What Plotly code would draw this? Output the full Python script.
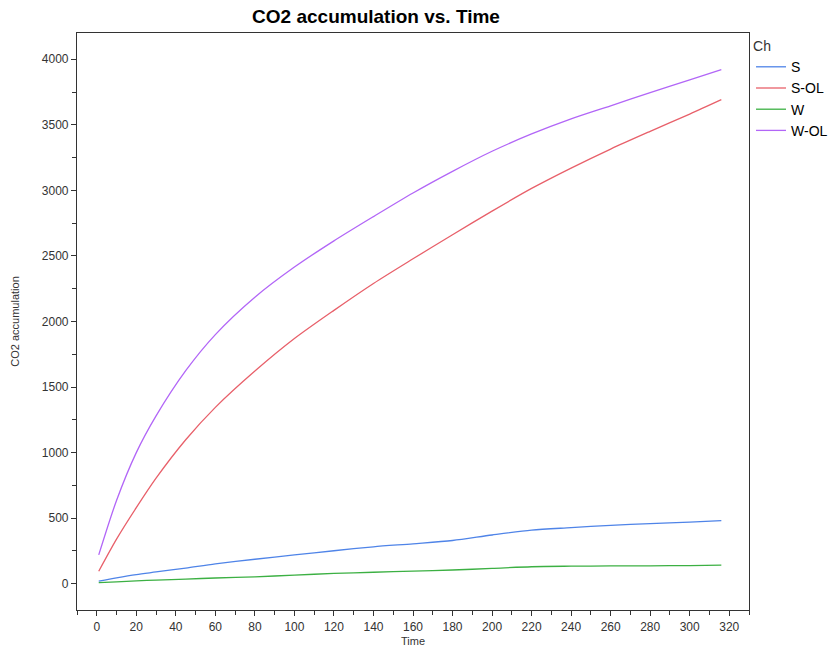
import plotly.graph_objects as go

# Sampling times shared by all channels
time = [1, 10, 20, 30, 45, 60, 80, 100, 120, 140, 160, 180, 200, 220, 240, 260, 280, 300, 316]

# CO2 accumulation per channel
co2_s = [20, 45, 70, 90, 120, 152, 187, 220, 252, 282, 305, 330, 372, 409, 428, 446, 458, 470, 481]
co2_s_ol = [95, 340, 580, 805, 1098, 1345, 1622, 1870, 2085, 2290, 2478, 2662, 2842, 3015, 3170, 3315, 3450, 3582, 3692]
co2_w = [8, 15, 22, 28, 36, 44, 53, 66, 79, 88, 96, 105, 117, 130, 134, 136, 137, 139, 142]
co2_w_ol = [220, 635, 1000, 1280, 1625, 1900, 2185, 2415, 2615, 2800, 2980, 3145, 3298, 3430, 3545, 3645, 3745, 3843, 3920]

channels = ["S", "S-OL", "W", "W-OL"]
series = [co2_s, co2_s_ol, co2_w, co2_w_ol]
colors = ["#4f84e8", "#e8606a", "#3cb043", "#b266f7"]

FONT = "Liberation Sans, Arial, sans-serif"

fig = go.Figure()
for name, vals, col in zip(channels, series, colors):
    fig.add_trace(go.Scatter(
        x=time, y=vals, name=name, mode="lines",
        line=dict(color=col, width=1.3, shape="spline", smoothing=0.8),
    ))

axis_common = dict(
    showline=True, linecolor="#333333", linewidth=1.2, mirror=True,
    showgrid=False, zeroline=False,
    ticks="outside", ticklen=5, tickcolor="#333333", tickwidth=1,
    tickfont=dict(family=FONT, size=12, color="#333333"),
)

fig.update_layout(
    width=831, height=652,
    margin=dict(l=77, r=82, t=33, b=42, autoexpand=False),
    paper_bgcolor="white", plot_bgcolor="white",
    title=dict(
        text="<b>CO2 accumulation vs. Time</b>",
        x=376 / 831, xanchor="center", xref="container",
        y=1 - 16 / 652, yanchor="middle", yref="container",
        font=dict(family=FONT, size=19, color="black"),
    ),
    xaxis=dict(
        **axis_common,
        range=[-10, 330], tick0=0, dtick=20,
        minor=dict(ticks="outside", ticklen=4, dtick=10, tick0=0, tickcolor="#333333"),
        title=dict(text="Time", standoff=4,
                   font=dict(family=FONT, size=11, color="#333333")),
    ),
    yaxis=dict(
        **axis_common,
        range=[-200, 4200], tick0=0, dtick=500,
        minor=dict(ticks="outside", ticklen=4, dtick=250, tick0=0, tickcolor="#333333"),
        title=dict(text="CO2 accumulation", standoff=19,
                   font=dict(family=FONT, size=11, color="#333333")),
    ),
    legend=dict(
        title=dict(text="Ch", font=dict(family=FONT, size=14, color="#333333")),
        font=dict(family=FONT, size=14, color="black"),
        x=1.003, xanchor="left", y=1.0, yanchor="top",
        tracegroupgap=0, itemwidth=30,
    ),
    showlegend=True,
)

fig.write_html("out.html")
